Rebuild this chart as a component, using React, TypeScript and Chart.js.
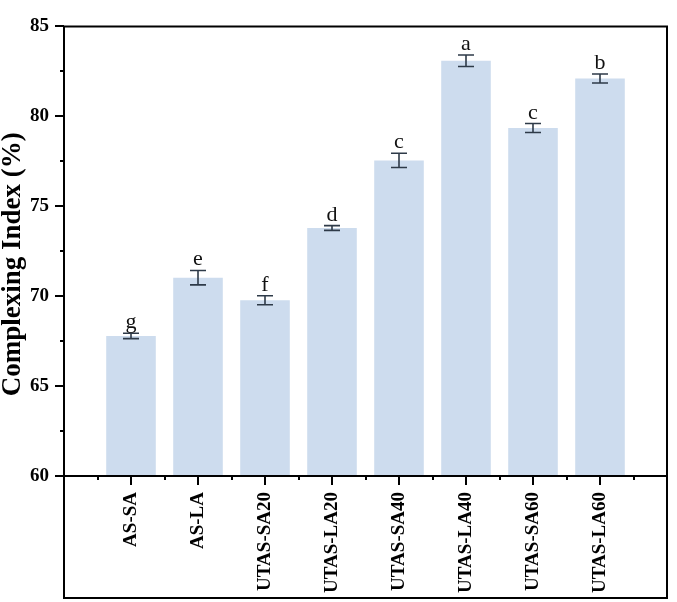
import React, { useEffect, useRef } from "react";
import { Chart, registerables } from "chart.js";

Chart.register(...registerables);

const categories = ["AS-SA", "AS-LA", "UTAS-SA20", "UTAS-LA20", "UTAS-SA40", "UTAS-LA40", "UTAS-SA60", "UTAS-LA60"];
const means = [67.79, 71.03, 69.77, 73.79, 77.55, 83.09, 79.35, 82.1];
const errors = [0.15, 0.4, 0.25, 0.13, 0.4, 0.32, 0.25, 0.25];
const letters = ["g", "e", "f", "d", "c", "a", "c", "b"];
const yTitle = "Complexing Index (%)";
const yMin = 60;
const yMax = 85;
const yStep = 5;

const SERIF = "'Times New Roman', 'Liberation Serif', serif";

const decorPlugin = {
  id: "decor",
  afterDatasetsDraw(chart: any) {
    const ctx = chart.ctx;
    const xs = chart.scales.x;
    const ys = chart.scales.y;
    ctx.save();
    ctx.strokeStyle = "#2e3a48";
    ctx.lineWidth = 1.6;
    means.forEach((m, i) => {
      const x = xs.getPixelForValue(i + 1);
      const yTop = ys.getPixelForValue(m + errors[i]);
      const yBot = ys.getPixelForValue(m - errors[i]);
      ctx.beginPath();
      ctx.moveTo(x, yTop);
      ctx.lineTo(x, yBot);
      ctx.moveTo(x - 8, yTop);
      ctx.lineTo(x + 8, yTop);
      ctx.moveTo(x - 8, yBot);
      ctx.lineTo(x + 8, yBot);
      ctx.stroke();
      ctx.fillStyle = "#111";
      ctx.font = `22px ${SERIF}`;
      ctx.textAlign = "center";
      ctx.textBaseline = "alphabetic";
      ctx.fillText(letters[i], x, yTop - 5);
    });
    ctx.restore();
  },
  afterDraw(chart: any) {
    const ctx = chart.ctx;
    const xs = chart.scales.x;
    const ys = chart.scales.y;
    const a = chart.chartArea;
    ctx.save();
    ctx.strokeStyle = "#000";
    ctx.lineWidth = 2;
    ctx.beginPath();
    ctx.rect(a.left, a.top, a.right - a.left, xs.bottom - a.top);
    ctx.stroke();
    ctx.beginPath();
    ctx.moveTo(a.left, a.bottom);
    ctx.lineTo(a.right, a.bottom);
    ctx.stroke();
    ctx.beginPath();
    for (let v = yMin; v <= yMax + 1e-6; v += yStep / 2) {
      const y = Math.round(ys.getPixelForValue(v));
      const major = Math.abs((v - yMin) % yStep) < 1e-6;
      ctx.moveTo(a.left, y);
      ctx.lineTo(a.left - (major ? 9 : 4), y);
    }
    for (let k = 1; k <= 17; k++) {
      const v = k / 2;
      const x = Math.round(xs.getPixelForValue(v));
      const major = k % 2 === 0;
      ctx.moveTo(x, a.bottom);
      ctx.lineTo(x, a.bottom + (major ? 9 : 4));
    }
    ctx.stroke();
    // y axis title
    ctx.translate(13, (a.top + a.bottom) / 2 + 13);
    ctx.rotate(-Math.PI / 2);
    ctx.fillStyle = "#000";
    ctx.font = `bold 27px ${SERIF}`;
    ctx.textAlign = "center";
    ctx.textBaseline = "middle";
    ctx.fillText(yTitle, 0, 0);
    ctx.restore();
  },
};

export default function App() {
  const ref = useRef<HTMLCanvasElement>(null);
  useEffect(() => {
    if (!ref.current) return;
    const chart = new Chart(ref.current, {
      type: "bar",
      data: {
        datasets: [
          {
            data: means.map((m, i) => ({ x: i + 1, y: m })),
            backgroundColor: "#cddcee",
            borderWidth: 0,
            barPercentage: 0.74,
            categoryPercentage: 1,
          },
        ],
      },
      options: {
        responsive: false,
        animation: false,
        events: [],
        layout: { padding: { left: 0, right: 10, top: 13, bottom: 4 } },
        plugins: { legend: { display: false }, tooltip: { enabled: false } },
        scales: {
          x: {
            type: "linear",
            min: 0,
            max: categories.length + 1,
            offset: false,
            grid: { display: false, drawTicks: false },
            border: { display: false },
            afterFit: (s: any) => {
              s.height = 122;
            },
            afterBuildTicks: (s: any) => {
              s.ticks = categories.map((_, i) => ({ value: i + 1 }));
            },
            ticks: {
              autoSkip: false,
              minRotation: 90,
              maxRotation: 90,
              padding: 16,
              color: "#000",
              font: { family: SERIF, size: 19, weight: "bold" },
              callback: (v: any) => categories[Number(v) - 1] ?? "",
            },
          },
          y: {
            min: yMin,
            max: yMax,
            grid: { display: false, drawTicks: false },
            border: { display: false },
            afterFit: (s: any) => {
              s.width = 64;
            },
            ticks: {
              stepSize: yStep,
              padding: 15,
              color: "#000",
              font: { family: SERIF, size: 19, weight: "bold" },
            },
          },
        },
      },
      plugins: [decorPlugin],
    } as any);
    return () => chart.destroy();
  }, []);
  return (
    <div style={{ position: "absolute", left: 0, top: 0, width: 677, height: 602, background: "#fff" }}>
      <canvas ref={ref} width={677} height={602} style={{ display: "block" }} />
    </div>
  );
}
